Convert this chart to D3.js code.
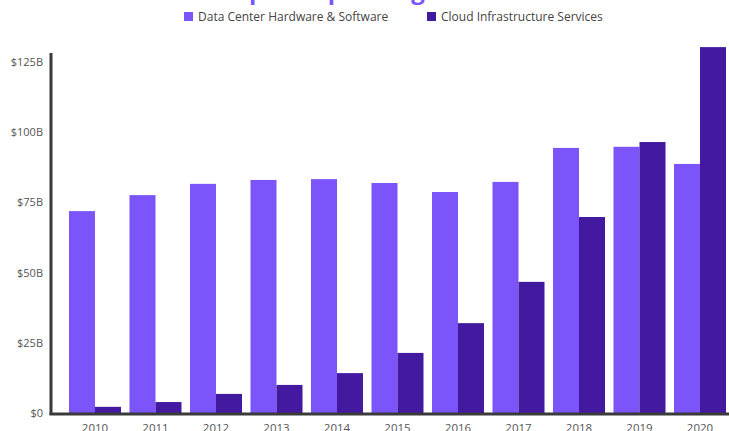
<!DOCTYPE html>
<html>
<head>
<meta charset="utf-8">
<script src="https://cdn.jsdelivr.net/npm/d3@7"></script>
<style>
  html, body { margin: 0; padding: 0; background: #fff; }
  svg { display: block; }
</style>
</head>
<body>
<svg id="chart" width="729" height="431"></svg>
<script>
const years = ["2010","2011","2012","2013","2014","2015","2016","2017","2018","2019","2020"];
const seriesNames = ["Data Center Hardware & Software", "Cloud Infrastructure Services"];
const dataCenter = [71.9, 77.6, 81.6, 83.0, 83.3, 81.9, 78.7, 82.3, 94.4, 94.8, 88.7];
const cloud = [2.2, 3.9, 6.8, 10.0, 14.2, 21.4, 32.0, 46.7, 69.8, 96.5, 130.3];
const yTicks = [0, 25, 50, 75, 100, 125];
const tickLabels = ["$0", "$25B", "$50B", "$75B", "$100B", "$125B"];
const colors = ["#7B55F9", "#43199F"];
const titleText = "Enterprise Spending on Cloud and Data Centers";

const svg = d3.select("#chart");
const font = "'Open Sans', 'Noto Sans', sans-serif";

const y = d3.scaleLinear().domain([0, 125]).range([413, 62]);
const x0 = d3.scaleBand().domain(years).range([64.75, 730.25]).paddingInner(8.5/60.5).paddingOuter(4.25/60.5);
const x1 = d3.scaleBand().domain([0, 1]).range([0, x0.bandwidth()]);

// title (mostly clipped above the frame)
const title = svg.append("text")
  .attr("y", -1)
  .attr("font-family", font)
  .attr("font-weight", 700)
  .attr("font-size", 24)
  .attr("fill", colors[0])
  .text(titleText);
const tmp = svg.append("text").attr("font-family", font).attr("font-weight", 700).attr("font-size", 24).text("Ente");
const wEnte = tmp.node().getComputedTextLength();
tmp.remove();
title.attr("x", 240 - wEnte - 2);

// bars
const groups = svg.append("g").selectAll("g")
  .data(years)
  .join("g")
  .attr("transform", d => `translate(${x0(d)},0)`);

groups.selectAll("rect")
  .data((d, i) => [dataCenter[i], cloud[i]])
  .join("rect")
  .attr("x", (d, j) => x1(j))
  .attr("width", x1.bandwidth())
  .attr("y", d => y(d))
  .attr("height", d => y(0) - y(d))
  .attr("fill", (d, j) => colors[j]);

// y axis
const yAxis = d3.axisLeft(y).tickValues(yTicks).tickFormat((d, i) => tickLabels[i]).tickSize(0).tickPadding(8);
const yg = svg.append("g").attr("transform", "translate(51,0)").call(yAxis);
yg.select(".domain").remove();
yg.selectAll("text").attr("font-family", font).attr("font-size", 11).attr("fill", "#555");
svg.append("line").attr("x1", 51).attr("x2", 51).attr("y1", 53).attr("y2", 415)
  .attr("stroke", "#3a3a3a").attr("stroke-width", 3);

// x axis
const xAxis = d3.axisBottom(x0).tickSize(0).tickPadding(11);
const xg = svg.append("g").attr("transform", "translate(0,413)").call(xAxis);
xg.select(".domain").remove();
xg.selectAll("text").attr("font-family", font).attr("font-size", 11.5).attr("fill", "#555");
svg.append("line").attr("x1", 49.5).attr("x2", 729).attr("y1", 414).attr("y2", 414)
  .attr("stroke", "#3a3a3a").attr("stroke-width", 3);

// legend
const legendX = [184, 427];
const leg = svg.append("g").selectAll("g").data(seriesNames).join("g")
  .attr("transform", (d, i) => `translate(${legendX[i]},12)`);
leg.append("rect").attr("width", 9).attr("height", 9).attr("fill", (d, i) => colors[i]);
leg.append("text").attr("x", 14).attr("y", 8.8)
  .attr("font-family", font).attr("font-size", 12).attr("fill", "#444")
  .text(d => d);
</script>
</body>
</html>
